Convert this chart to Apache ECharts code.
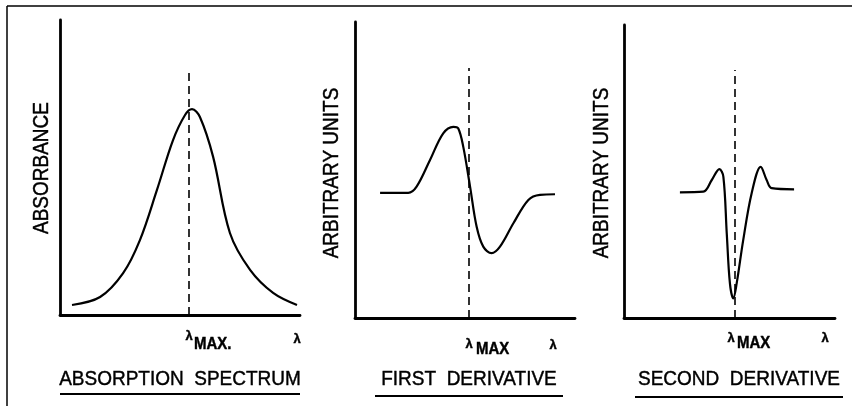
<!DOCTYPE html>
<html><head><meta charset="utf-8">
<script src="https://cdn.jsdelivr.net/npm/echarts@6/dist/echarts.min.js"></script>
<style>html,body{margin:0;padding:0;background:#fff}#c{width:852px;height:406px}</style>
</head><body><div id="c"></div>
<script>
// Data (arbitrary units 0-100 on both axes)
var absorptionX = [5, 16.7, 26.3, 33.3, 40.4, 47.1, 52.1, 55, 58.3, 63.8, 70.8, 79.2, 88.8, 98.75];
var absorptionY = [3.4, 6.1, 14.2, 25.4, 42.4, 59.3, 67.8, 69.8, 67.1, 53.6, 27.8, 15.3, 7.5, 3.4];
var firstDerivX = [11.4, 24.2, 28.0, 34.1, 40.1, 44.7, 46.9, 49.2, 52.3, 55.3, 58.3, 62.1, 65.9, 72.0, 78.8, 84.1, 90.9];
var firstDerivY = [42.3, 42.3, 44.4, 53.4, 62.4, 64.6, 64.1, 57.9, 44.4, 30.8, 24.1, 21.9, 24.1, 32.0, 39.9, 41.6, 41.8];
var secondDerivX = [26.5, 37.6, 41.6, 45.2, 47.1, 48.7, 50.2, 51.8, 53.4, 56.5, 60.5, 64.8, 67.6, 70.0, 80.6];
var secondDerivY = [42.9, 43.1, 47.1, 50.8, 48.2, 28.9, 11.8, 6.7, 11.8, 26.6, 42.6, 51.6, 47.1, 44.3, 43.9];
var lambdaMaxX = [53.75, 51.8, 52.6];
var lambdaMaxTop = [83.7, 84.5, 84.6];
var titles = ['ABSORPTION  SPECTRUM', 'FIRST  DERIVATIVE', 'SECOND  DERIVATIVE'];
var yNames = ['ABSORBANCE', 'ARBITRARY UNITS', 'ARBITRARY UNITS'];

function zip(a, b) { return a.map(function (v, i) { return [v, b[i]]; }); }
var seriesData = [zip(absorptionX, absorptionY), zip(firstDerivX, firstDerivY), zip(secondDerivX, secondDerivY)];

var grids = [
  {left: 60, top: 20, width: 240, height: 295},
  {left: 355, top: 22, width: 220, height: 296},
  {left: 624, top: 25, width: 211, height: 293}
];
var FONT = '"Liberation Sans", Arial, sans-serif';
var axisLine = {show: true, lineStyle: {color: '#000', width: 2.8}};

var option = {
  animation: false,
  backgroundColor: '#fff',
  grid: grids,
  xAxis: grids.map(function (g, i) {
    return {type: 'value', gridIndex: i, min: 0, max: 100, axisLine: axisLine,
      axisTick: {show: false}, axisLabel: {show: false}, splitLine: {show: false}};
  }),
  yAxis: grids.map(function (g, i) {
    return {type: 'value', gridIndex: i, min: 0, max: 100, axisLine: axisLine,
      axisTick: {show: false}, axisLabel: {show: false}, splitLine: {show: false}};
  }),
  series: seriesData.map(function (d, i) {
    return {type: 'line', xAxisIndex: i, yAxisIndex: i, data: d, smooth: 0.35,
      showSymbol: false, lineStyle: {color: '#000', width: 2.2},
      markLine: {silent: true, symbol: 'none', label: {show: false},
        lineStyle: {color: '#000', width: 1.6, type: [8, 5]},
        data: [[{coord: [lambdaMaxX[i], 0]}, {coord: [lambdaMaxX[i], lambdaMaxTop[i]]}]]}};
  }),
  graphic: []
};

// frame (top and left)
option.graphic.push({type: 'line', shape: {x1: 7, y1: 6, x2: 852, y2: 6}, style: {stroke: '#000', lineWidth: 1.5}});
option.graphic.push({type: 'line', shape: {x1: 7, y1: 6, x2: 7, y2: 406}, style: {stroke: '#000', lineWidth: 1.5}});

var yNamePos = [[42, 168], [332, 173], [602, 173]];
var titleInfo = [{cx: 180, x1: 60, x2: 300, ul: 394}, {cx: 469, x1: 375, x2: 563, ul: 396}, {cx: 739, x1: 635, x2: 843, ul: 397}];
var lamPos = [{lx: 189, ly: 336, mx: 194, my: 344, ex: 297, ey: 339, dot: true},
              {lx: 469, ly: 344, mx: 476, my: 349, ex: 553, ey: 345},
              {lx: 731, ly: 338, mx: 737, my: 343, ex: 825, ey: 338}];
var txt = function (t, size, bold) {
  return {text: t, font: (bold ? 'bold ' : '') + size + 'px ' + FONT, fill: '#000',
    stroke: '#000', lineWidth: 0.4, textAlign: 'center', textVerticalAlign: 'middle'};
};
for (var i = 0; i < 3; i++) {
  option.graphic.push({type: 'text', x: yNamePos[i][0], y: yNamePos[i][1], rotation: Math.PI / 2, scaleY: 1.15,
    style: txt(yNames[i], 19)});
  option.graphic.push({type: 'text', x: titleInfo[i].cx, y: 379, scaleY: 1.1, style: txt(titles[i], 19)});
  option.graphic.push({type: 'line', shape: {x1: titleInfo[i].x1, y1: titleInfo[i].ul, x2: titleInfo[i].x2, y2: titleInfo[i].ul},
    style: {stroke: '#000', lineWidth: 2}});
  var p = lamPos[i];
  option.graphic.push({type: 'text', x: p.lx, y: p.ly, style: txt('λ', 13, true)});
  var ms = txt('MAX' + (p.dot ? '.' : ''), 15, true); ms.textAlign = 'left';
  option.graphic.push({type: 'text', x: p.mx, y: p.my, scaleY: 1.15, style: ms});
  option.graphic.push({type: 'text', x: p.ex, y: p.ey, style: txt('λ', 13, true)});
}

var chart = echarts.init(document.getElementById('c'), null, {renderer: 'canvas'});
chart.setOption(option);
</script></body></html>
